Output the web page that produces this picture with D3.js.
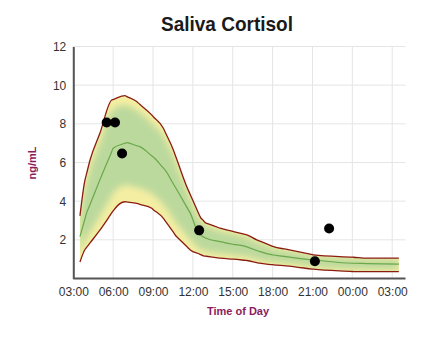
<!DOCTYPE html>
<html><head><meta charset="utf-8">
<script src="https://cdn.jsdelivr.net/npm/d3@7"></script>
<style>body{margin:0;background:#fff}svg{display:block}</style>
</head><body>
<svg id="c" width="446" height="338"></svg>
<script>
const hoursUpper = [3.5,3.88,4.26,5.0,5.89,6.89,7.77,8.9,9.78,10.53,11.54,12.54,12.92,14.05,15.05,16.06,16.8,18.06,21.07,24.08,25.1,27.5];
const upperVals  = [3.24,5.1,6.13,7.51,9.23,9.46,9.15,8.46,7.77,6.65,4.75,3.2,2.89,2.6,2.43,2.26,2.0,1.65,1.22,1.1,1.05,1.05];
const hoursMid   = [3.5,4.0,5.0,6.0,7.0,8.0,9.0,9.9,10.8,11.8,12.5,13.0,14.0,15.0,16.0,17.0,18.0,21.0,24.0,27.5];
const midVals    = [2.17,3.38,5.1,6.74,7.03,6.82,6.3,5.62,4.58,3.38,2.26,2.08,1.91,1.77,1.65,1.4,1.22,0.96,0.79,0.74];
const hoursLower = [3.5,3.88,5.0,6.0,6.89,7.77,8.9,9.78,10.78,11.8,12.8,14.05,15.05,16.06,17.0,18.06,19.0,21.07,24.08,27.5];
const lowerVals  = [0.85,1.5,2.5,3.5,3.97,3.89,3.63,3.11,2.16,1.48,1.17,1.05,1.0,0.93,0.79,0.71,0.65,0.48,0.36,0.36];
const sampleHours = [5.51,6.14,6.67,12.47,21.18,22.25];
const sampleVals  = [8.07,8.07,6.47,2.49,0.89,2.59];
const xTickHours = [3,6,9,12,15,18,21,24,27];
const xTickLabels = ["03:00","06:00","09:00","12:00","15:00","18:00","21:00","00:00","03:00"];
const yTicks = [2,4,6,8,10,12];

const svg = d3.select("#c");
const x = d3.scaleLinear().domain([3,28]).range([73.3,405.5]);
const y = d3.scaleLinear().domain([0,12]).range([278.5,46.5]);

const interp = (hs, vs) => h => {
  if (h <= hs[0]) return vs[0];
  for (let i=1;i<hs.length;i++) if (h<=hs[i]) { const t=(h-hs[i-1])/(hs[i]-hs[i-1]); return vs[i-1]+t*(vs[i]-vs[i-1]); }
  return vs[vs.length-1];
};
const fU = interp(hoursUpper, upperVals), fM = interp(hoursMid, midVals), fL = interp(hoursLower, lowerVals);
const allH = Array.from(new Set([...hoursUpper,...hoursMid,...hoursLower])).sort((a,b)=>a-b);
const band = allH.map(h => ({h, u:fU(h), m:fM(h), l:fL(h)}));
const crv = d3.curveMonotoneX;

const g = svg.append("g");
g.selectAll(".hg").data(yTicks).join("line")
  .attr("x1", x(3)).attr("x2", x(28)).attr("y1", d=>y(d)).attr("y2", d=>y(d))
  .attr("stroke","#e5e5e5").attr("stroke-width",1);
g.selectAll(".vg").data(xTickHours).join("line")
  .attr("x1", d=>x(d)).attr("x2", d=>x(d)).attr("y1", y(12)).attr("y2", y(0))
  .attr("stroke","#e5e5e5").attr("stroke-width",1);

const defs = svg.append("defs");
defs.append("filter").attr("id","bl").attr("x","-10%").attr("y","-10%").attr("width","120%").attr("height","120%")
  .append("feGaussianBlur").attr("stdDeviation",3);
const area = d3.area().x(d=>x(d.h)).y0(d=>y(d.l)).y1(d=>y(d.u)).curve(crv);
defs.append("clipPath").attr("id","bc").append("path").datum(band).attr("d", area);

svg.append("path").datum(band).attr("d", area).attr("fill","#f4eea2");
const inner = d3.area().x(d=>x(d.h)).y0(d=>y(d.m-(d.m-d.l)*0.72)).y1(d=>y(d.m+(d.u-d.m)*0.8)).curve(crv);
svg.append("g").attr("clip-path","url(#bc)").append("path").datum(band).attr("d", inner)
  .attr("fill","#bcd99d").attr("filter","url(#bl)");

const line = k => d3.line().x(d=>x(d.h)).y(d=>y(d[k])).curve(crv);
svg.append("path").datum(band).attr("d", line("u")).attr("fill","none").attr("stroke","#8b1c12").attr("stroke-width",1.3);
svg.append("path").datum(band).attr("d", line("l")).attr("fill","none").attr("stroke","#8b1c12").attr("stroke-width",1.3);
svg.append("path").datum(band).attr("d", line("m")).attr("fill","none").attr("stroke","#6aa84a").attr("stroke-width",1.2);

svg.selectAll(".pt").data(sampleHours).join("circle")
  .attr("cx", d=>x(d)).attr("cy",(d,i)=>y(sampleVals[i])).attr("r",5).attr("fill","#000");

const xAxis = svg.append("g").attr("transform",`translate(0,${y(0)})`)
  .call(d3.axisBottom(x).tickValues(xTickHours).tickFormat((d,i)=>xTickLabels[i]).tickSize(0).tickPadding(9));
xAxis.select(".domain").attr("stroke","#555").attr("stroke-width",2).attr("d",`M${x(3)},0H${x(28)}`);
const yAxis = svg.append("g").attr("transform",`translate(${x(3)},0)`)
  .call(d3.axisLeft(y).tickValues(yTicks).tickSize(0).tickPadding(7));
yAxis.select(".domain").attr("stroke","#555").attr("stroke-width",2);
svg.selectAll(".tick text").attr("font-family","Liberation Sans, Arial, sans-serif").attr("font-size",12).attr("fill","#333");

svg.append("text").attr("x",227).attr("y",31).attr("text-anchor","middle")
  .attr("font-family","Liberation Sans, Arial, sans-serif").attr("font-weight","bold").attr("font-size",21)
  .attr("fill","#1a1a1a").attr("textLength",132).attr("lengthAdjust","spacingAndGlyphs").text("Saliva Cortisol");
svg.append("text").attr("x",238).attr("y",315).attr("text-anchor","middle")
  .attr("font-family","Liberation Sans, Arial, sans-serif").attr("font-weight","bold").attr("font-size",11)
  .attr("fill","#8a1c5c").text("Time of Day");
svg.append("text").attr("transform","translate(36,163) rotate(-90)").attr("text-anchor","middle")
  .attr("font-family","Liberation Sans, Arial, sans-serif").attr("font-weight","bold").attr("font-size",11)
  .attr("fill","#8a1c5c").text("ng/mL");
</script>
</body></html>
